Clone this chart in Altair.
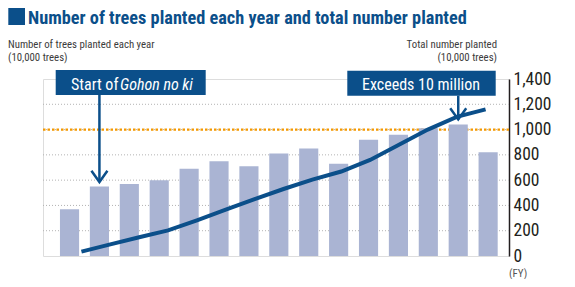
import altair as alt
import pandas as pd

# ---- data ----
years = ["2000", "2001", "2002", "2003", "2004", "2005", "2006", "2007",
         "2008", "2009", "2010", "2011", "2012", "2013", "2014"]
annual = [37, 55, 57, 60, 69, 75, 71, 81, 85, 73, 92, 96, 101, 104, 82]      # left axis, 10,000 trees
total = [35, 92, 148, 203, 282, 366, 450, 530, 604, 668, 760, 880, 1000, 1100, 1160]  # right axis
grid_values = [20, 40, 60, 80, 100, 120]
target_value = [100]
left_ticks = [0, 20, 40, 60, 80, 100, 120, 140]
right_ticks = [0, 200, 400, 600, 800, 1000, 1200, 1400]

ann_years = ["2001", "2013"]
ann_tips = [58.5, 108.0]          # arrow tip, left-axis units
ann_box_top = [147.2, 146.6]
ann_box_bottom = [127.4, 126.8]

title_text = "Number of trees planted each year and total number planted"

COND = "Roboto Condensed"
BLUE = "#0b4f8a"
BAR = "#aab4d3"
ORANGE = "#f39800"
INK = "#231f20"

df = pd.DataFrame({"year": years, "annual": annual, "total": total})
ann = pd.DataFrame({"year": ann_years, "tip": ann_tips,
                    "top": ann_box_top, "bottom": ann_box_bottom})

xscale = alt.Scale(domain=years, paddingInner=0.36, paddingOuter=0.4725, align=0.6)
yscale = alt.Scale(domain=[0, 140], nice=False, zero=True)

grid = alt.Chart(pd.DataFrame({"v": grid_values})).mark_rule(
    color="#b3b3b3", strokeDash=[1, 2], strokeWidth=1
).encode(y=alt.Y("v:Q", scale=yscale, axis=None))

target = alt.Chart(pd.DataFrame({"v": target_value})).mark_rule(
    color=ORANGE, strokeDash=[2.5, 2], strokeWidth=2.2
).encode(y=alt.Y("v:Q", scale=yscale, axis=None))

bars = alt.Chart(df).mark_bar(color=BAR).encode(
    x=alt.X("year:N", sort=years, scale=xscale,
            axis=alt.Axis(title=None, labelFont=COND, labelFontSize=14,
                          labelColor=INK, labelPadding=7, ticks=False,
                          domainColor=INK, domainWidth=2, labelAngle=0)),
    y=alt.Y("annual:Q", scale=yscale,
            axis=alt.Axis(title=None, values=left_ticks, labelFont=COND,
                          labelFontSize=17.5, labelColor=INK, ticks=False,
                          grid=False, domainColor=INK, domainWidth=1.5,
                          labelPadding=5, orient="left")),
)

ann_base = alt.Chart(ann)
x_ann = alt.X("year:N", sort=years, scale=xscale, axis=None)

shafts = ann_base.mark_rule(color=BLUE, strokeWidth=2.5).encode(
    x=x_ann,
    y=alt.Y("bottom:Q", scale=yscale, axis=None),
    y2="tip:Q",
)
heads = ann_base.mark_point(
    shape="M-1,-1.4L0,0L1,-1.4", filled=False, color=BLUE,
    strokeWidth=2.5, size=256, opacity=1
).encode(x=x_ann, y=alt.Y("tip:Q", scale=yscale, axis=None))

box1 = alt.Chart(ann.iloc[[0]]).mark_rect(color=BLUE).encode(
    x=alt.value(12.7), x2=alt.value(162.7),
    y=alt.Y("top:Q", scale=yscale, axis=None), y2="bottom:Q")
box2 = alt.Chart(ann.iloc[[1]]).mark_rect(color=BLUE).encode(
    x=alt.value(304.3), x2=alt.value(452.7),
    y=alt.Y("top:Q", scale=yscale, axis=None), y2="bottom:Q")

def label(txt, x, y, size, color, font=COND, align="left", style="normal", weight="normal"):
    return alt.Chart(pd.DataFrame({"t": [txt]})).mark_text(
        align=align, baseline="alphabetic", font=font, fontSize=size,
        color=color, fontStyle=style, fontWeight=weight
    ).encode(text="t:N", x=alt.value(x), y=alt.value(y))

t1a = label("Start of", 28, 11, 16, "white")
t1b = label("Gohon no ki", 77, 11, 16, "white", style="italic")
t2 = label("Exceeds 10 million", 378, 11, 16, "white", align="center")

square = alt.Chart(pd.DataFrame({"k": [0]})).mark_rect(color=BLUE).encode(
    x=alt.value(-34.7), x2=alt.value(-18), y=alt.value(-71.7), y2=alt.value(-54))
title = label(title_text, -15, -55, 18.3, BLUE, weight="bold")
SUB = "#3c3c3c"
sub_l1 = label("Number of trees planted each year", -35, -31, 10.8, SUB)
sub_l2 = label("(10,000 trees)", -35, -18, 10.8, SUB)
sub_r1 = label("Total number planted", 454, -31, 10.8, SUB, align="right")
sub_r2 = label("(10,000 trees)", 454, -18, 10.8, SUB, align="right")
fy = label("(FY)", 466, 198, 11, "#555555")

left_group = alt.layer(grid, target, bars, box1, box2, shafts, heads,
                       t1a, t1b, t2, square, title, sub_l1, sub_l2, sub_r1, sub_r2, fy)

line = alt.Chart(df).mark_line(color=BLUE, strokeWidth=4, strokeCap="butt").encode(
    x=alt.X("year:N", sort=years,
            scale=alt.Scale(type="point", domain=years, range=[24, 457]), axis=None),
    y=alt.Y("total:Q", scale=alt.Scale(domain=[0, 1400], nice=False),
            axis=alt.Axis(title=None, orient="right", values=right_ticks, format=",.0f",
                          labelFont=COND, labelFontSize=17.5, labelColor=INK,
                          ticks=False, grid=False, domainColor=INK,
                          domainWidth=1.5, labelPadding=4)),
)

chart = alt.layer(left_group, line).resolve_scale(
    x="independent", y="independent"
).properties(
    width=466, height=177,
    autosize=alt.AutoSizeParams(type="none"),
    padding={"left": 35, "top": 71, "right": 58, "bottom": 23},
).configure_view(stroke=None).configure(background="white")

chart.save("out.html", embed_options={"renderer": "svg", "actions": False})
